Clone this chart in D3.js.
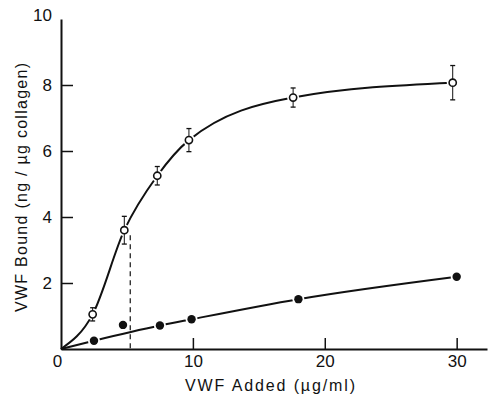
<!DOCTYPE html>
<html>
<head>
<meta charset="utf-8">
<script src="https://cdn.jsdelivr.net/npm/d3@7"></script>
<style>
  body { margin: 0; background: #fff; }
</style>
</head>
<body>
<div id="plot"></div>
<script>
// open circles (with SEM bars) and filled circles
var openX = [2.4, 4.8, 7.3, 9.7, 17.6, 29.7];
var openY = [1.05, 3.6, 5.25, 6.33, 7.62, 8.07];
var openErr = [0.2, 0.42, 0.28, 0.35, 0.29, 0.52];
var filledX = [2.5, 4.7, 7.5, 9.9, 18, 30];
var filledY = [0.25, 0.73, 0.71, 0.9, 1.51, 2.19];
var filledOnFit = [true, false, true, true, true, true];
// dashed drop line at the half-saturation point
var halfX = 5.25, halfY = 3.45;

var xTicks = [0, 10, 20, 30];
var yTicks = [2, 4, 6, 8, 10];
var xTitle = "VWF Added (\u00b5g/ml)";
var yTitle = "VWF Bound  (ng / \u00b5g collagen)";

var width = 488, height = 400;
var font = "'Liberation Sans', Arial, sans-serif";
var ink = "#111";

var svg = d3.select("#plot")
  .append("svg")
  .attr("width", width)
  .attr("height", height)
  .style("background", "#fff");

// scales
var x = d3.scaleLinear().domain([0, 32.3]).range([61, 487]);
var y = d3.scaleLinear().domain([0, 10]).range([349, 19]);

// axes
var xAxis = svg.append("g")
  .attr("transform", `translate(0,${y(0)})`)
  .call(d3.axisBottom(x).tickValues(xTicks).tickSizeInner(-11).tickSizeOuter(0).tickPadding(6));

var yAxis = svg.append("g")
  .attr("transform", `translate(${x(0)},0)`)
  .call(d3.axisLeft(y).tickValues(yTicks).tickSizeInner(-12).tickSizeOuter(0).tickPadding(9));

[xAxis, yAxis].forEach(function(ax) {
  ax.select(".domain").attr("stroke", ink).attr("stroke-width", 2);
  ax.selectAll(".tick line").attr("stroke", ink).attr("stroke-width", 1.5);
  ax.selectAll(".tick text")
    .attr("fill", ink)
    .style("font-family", font)
    .style("font-size", "17px");
});
// no tick marks at the origin or at the top end
xAxis.selectAll(".tick").filter(function(d) { return d === 0; }).select("line").remove();
xAxis.selectAll(".tick").filter(function(d) { return d === 0; }).select("text").attr("dx", -4);
yAxis.selectAll(".tick").filter(function(d) { return d === 10; }).select("line").remove();
yAxis.selectAll(".tick").filter(function(d) { return d === 10; }).select("text").attr("dy", "0.1em");

// axis titles
svg.append("text")
  .attr("x", 185)
  .attr("y", 391)
  .attr("textLength", 170)
  .attr("lengthAdjust", "spacing")
  .style("font-family", font)
  .style("font-size", "16px")
  .attr("fill", ink)
  .text(xTitle);

svg.append("text")
  .attr("transform", "translate(27,312) rotate(-90)")
  .attr("textLength", 249)
  .attr("lengthAdjust", "spacing")
  .style("font-family", font)
  .style("font-size", "16px")
  .attr("fill", ink)
  .text(yTitle);

// point lists
var openPts = openX.map(function(v, i) { return {x: v, y: openY[i], e: openErr[i]}; });
var filledPts = filledX.map(function(v, i) { return {x: v, y: filledY[i], fit: filledOnFit[i]}; });

var line = d3.line()
  .x(function(d) { return x(d.x); })
  .y(function(d) { return y(d.y); })
  .curve(d3.curveMonotoneX);

// fitted curves start at the origin
svg.append("path")
  .datum([{x: 0, y: 0}].concat(openPts))
  .attr("d", line)
  .attr("fill", "none")
  .attr("stroke", ink)
  .attr("stroke-width", 2);

svg.append("path")
  .datum([{x: 0, y: 0}].concat(filledPts.filter(function(d) { return d.fit; })))
  .attr("d", line)
  .attr("fill", "none")
  .attr("stroke", ink)
  .attr("stroke-width", 2);

// dashed drop line
svg.append("line")
  .attr("x1", x(halfX)).attr("x2", x(halfX))
  .attr("y1", y(halfY)).attr("y2", y(0))
  .attr("stroke", ink)
  .attr("stroke-width", 1.2)
  .attr("stroke-dasharray", "5,4");

// white halos leave a small gap in the curves around each marker
svg.selectAll(".halo")
  .data(openPts.concat(filledPts))
  .join("circle")
  .attr("class", "halo")
  .attr("cx", function(d) { return x(d.x); })
  .attr("cy", function(d) { return y(d.y); })
  .attr("r", 6)
  .attr("fill", "#fff");

// error bars
var eb = svg.selectAll(".err")
  .data(openPts)
  .join("g")
  .attr("class", "err");

eb.append("line")
  .attr("x1", function(d) { return x(d.x); })
  .attr("x2", function(d) { return x(d.x); })
  .attr("y1", function(d) { return y(d.y + d.e); })
  .attr("y2", function(d) { return y(d.y - d.e); })
  .attr("stroke", ink)
  .attr("stroke-width", 1);

eb.selectAll(".cap")
  .data(function(d) { return [{x: d.x, y: d.y + d.e}, {x: d.x, y: d.y - d.e}]; })
  .join("line")
  .attr("class", "cap")
  .attr("x1", function(d) { return x(d.x) - 2.5; })
  .attr("x2", function(d) { return x(d.x) + 2.5; })
  .attr("y1", function(d) { return y(d.y); })
  .attr("y2", function(d) { return y(d.y); })
  .attr("stroke", ink)
  .attr("stroke-width", 1.3);

// markers
svg.selectAll(".open")
  .data(openPts)
  .join("circle")
  .attr("class", "open")
  .attr("cx", function(d) { return x(d.x); })
  .attr("cy", function(d) { return y(d.y); })
  .attr("r", 3.6)
  .attr("fill", "#fff")
  .attr("stroke", ink)
  .attr("stroke-width", 1.6);

svg.selectAll(".filled")
  .data(filledPts)
  .join("circle")
  .attr("class", "filled")
  .attr("cx", function(d) { return x(d.x); })
  .attr("cy", function(d) { return y(d.y); })
  .attr("r", 4.2)
  .attr("fill", ink);
</script>
</body>
</html>
